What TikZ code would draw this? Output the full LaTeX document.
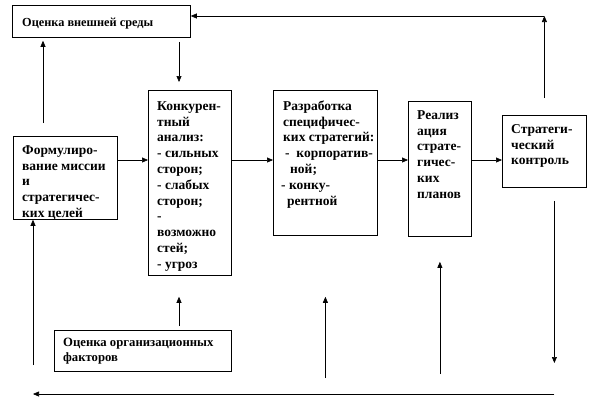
\documentclass[tikz,border=0pt]{standalone}
\usepackage{fontspec}
\setmainfont{Liberation Serif}
\usetikzlibrary{arrows.meta}
\tikzset{
  blk/.style={draw, line width=0.8pt, anchor=north west, inner sep=0pt},
  txt/.style={anchor=north west, align=left, inner sep=0pt, font=\fontsize{13.5}{15.8}\selectfont\bfseries},
  arr/.style={line width=0.6pt, -{Triangle[length=6pt,width=5pt]}}
}
\begin{document}
\begin{tikzpicture}[x=1pt,y=-1pt]
\useasboundingbox (0,0) rectangle (591,413);
% boxes
\node[blk, minimum width=178pt, minimum height=32pt] (env) at (12,5) {};
\node[blk, minimum width=104pt, minimum height=83pt] (form) at (13,136) {};
\node[blk, minimum width=83pt, minimum height=185pt] (konk) at (148,90) {};
\node[blk, minimum width=104pt, minimum height=145pt] (razr) at (273,90) {};
\node[blk, minimum width=63pt, minimum height=135pt] (real) at (408,101) {};
\node[blk, minimum width=84pt, minimum height=72pt] (ctl) at (502,115) {};
\node[blk, minimum width=177pt, minimum height=41pt] (org) at (54,330) {};
% texts
\node[txt, font=\fontsize{12.3}{15}\selectfont\bfseries] (env-t) at ([xshift=10pt,yshift=-11pt]env.north west) {\strut Оценка внешней среды};
\node[txt] (form-t) at ([xshift=9pt,yshift=-7pt]form.north west)
  {\strut Формулиро-\\вание миссии\\и\\стратегичес-\\ких целей};
\node[txt] (konk-t) at ([xshift=9pt,yshift=-9pt]konk.north west)
  {\strut Конкурен-\\тный\\анализ:\\- сильных\\сторон;\\- слабых\\сторон;\\-\\возможно\\стей;\\- угроз};
\node[txt] (razr-t) at ([xshift=8pt,yshift=-9pt]razr.north west)
  {\strut\hspace*{2pt}Разработка\\\hspace*{2pt}специфичес-\\\hspace*{2pt}ких стратегий:\\\hspace*{4pt}-\ \ корпоратив-\\\hspace*{9pt}ной;\\- конку-\\\hspace*{6pt}рентной};
\node[txt] (real-t) at ([xshift=9pt,yshift=-7pt]real.north west)
  {\strut Реализ\\ация\\страте-\\гичес-\\ких\\планов};
\node[txt] (ctl-t) at ([xshift=9pt,yshift=-7pt]ctl.north west)
  {\strut Стратеги-\\ческий\\контроль};
\node[txt, font=\fontsize{12.7}{15}\selectfont\bfseries] (org-t) at ([xshift=9pt,yshift=-6pt]org.north west)
  {\strut Оценка организационных\\факторов};
% helper coordinates
\coordinate (row) at (0,160);
\coordinate (top) at (0,16);
\coordinate (bot) at (0,394);
\coordinate (c1) at (ctl.north |- top);
\coordinate (c2) at ([xshift=10pt]ctl.south);
\coordinate (f1) at ([xshift=30pt,yshift=13pt]form.north west);
\coordinate (k1) at ([xshift=31pt]konk.north west);
\coordinate (l1) at ([xshift=20pt]form.south west);
% main chain
\draw[arr] (form.east |- row) -- (konk.west |- row);
\draw[arr] (konk.east |- row) -- (razr.west |- row);
\draw[arr] (razr.east |- row) -- (real.west |- row);
\draw[arr] (real.east |- row) -- (ctl.west |- row);
% upper loop
\draw[arr] ([yshift=17pt]ctl.north) -- (c1);
\draw[arr] (c1) -- (env.east |- c1);
\draw[arr, shorten >=3pt] (f1) -- (f1 |- env.south);
\draw[arr, shorten <=4pt, shorten >=8pt] (k1 |- env.south) -- (k1);
% lower loop
\draw[arr, shorten <=4pt, shorten >=21pt] (org.north -| k1) -- (k1 |- konk.south);
\draw[arr, shorten <=16pt, shorten >=61pt] (razr.south |- bot) -- (razr.south);
\draw[arr, shorten <=20pt, shorten >=25pt] (real.south |- bot) -- (real.south);
\draw[arr, shorten <=13pt, shorten >=31pt] (c2) -- (c2 |- bot);
\draw[arr] (c2 |- bot) -- (l1 |- bot);
\draw[arr, shorten <=29pt] (l1 |- bot) -- (l1);
\end{tikzpicture}
\end{document}
